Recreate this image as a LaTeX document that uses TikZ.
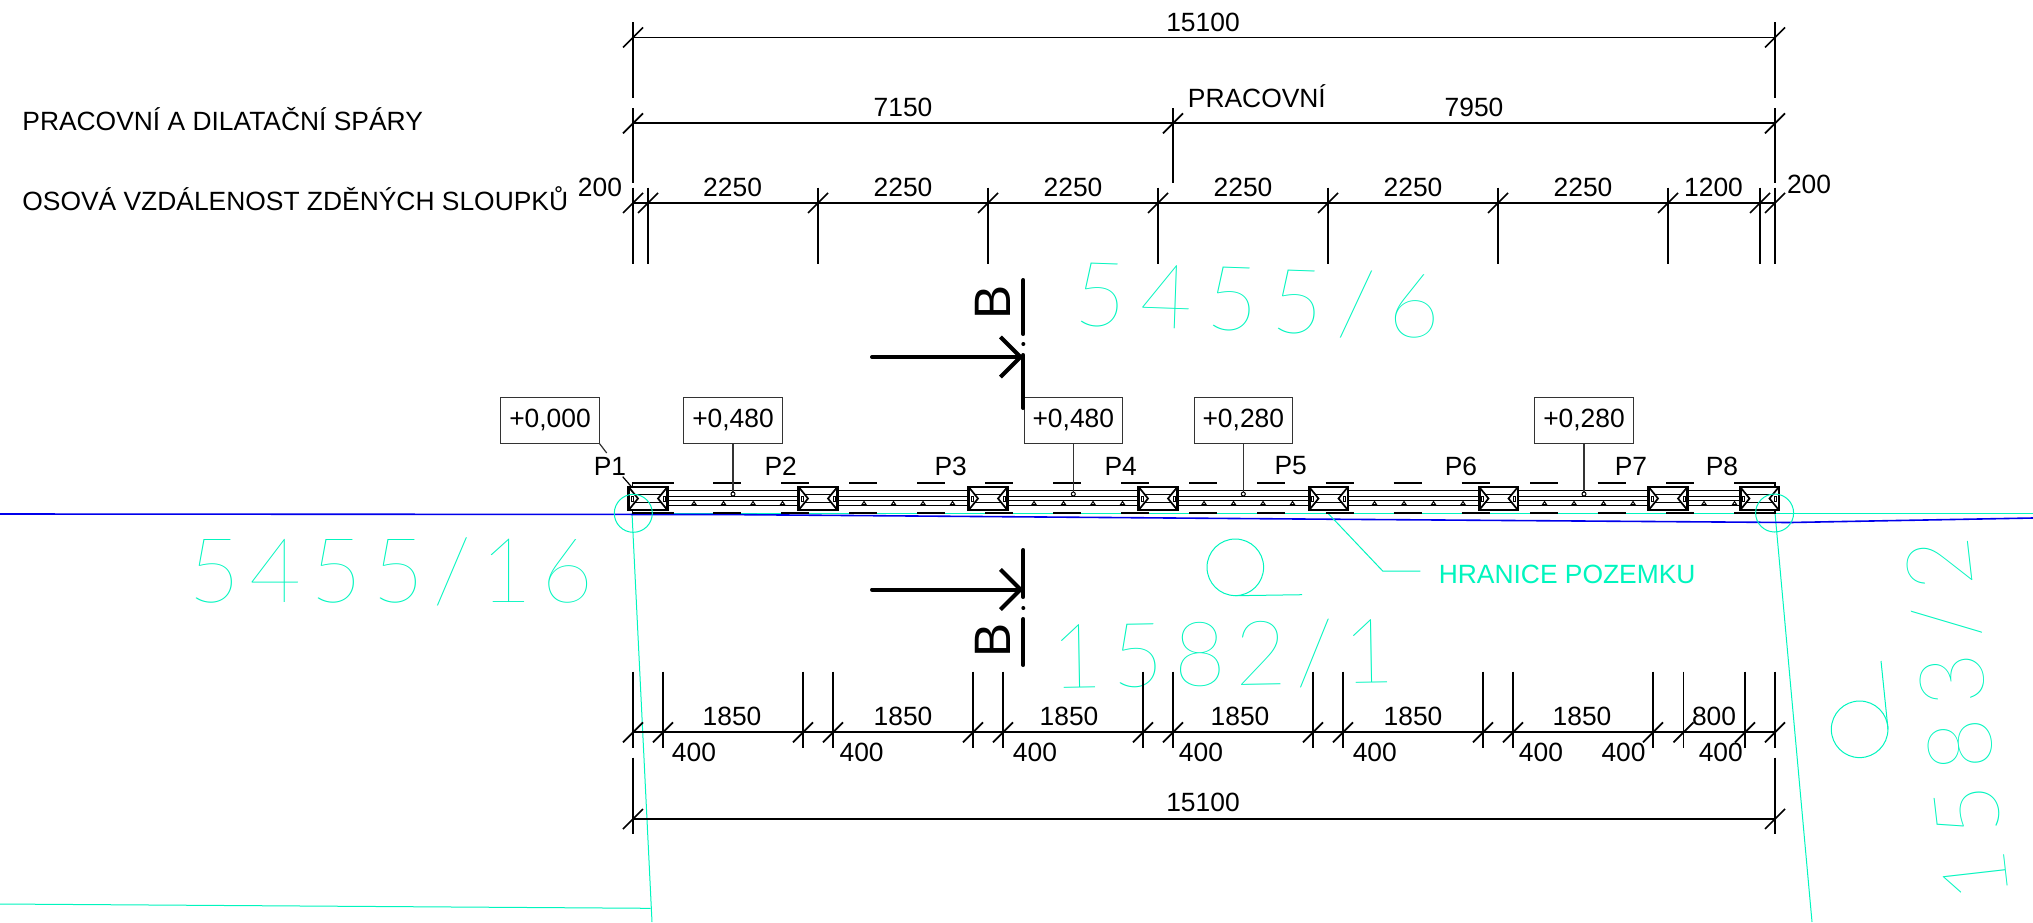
\documentclass[tikz,border=0pt]{standalone}
\usepackage{xcolor}
\usepackage{fontspec}
\setmainfont{Liberation Sans}
\newfontfamily\parcelfont[LetterSpace=10]{Lato Hairline}
\newfontfamily\parcelwidefont[LetterSpace=15]{Lato Hairline}
\usetikzlibrary{arrows.meta, positioning}
\definecolor{parcel}{RGB}{0,245,190}
\definecolor{terrain}{RGB}{0,0,235}
\tikzset{
    every node/.style={inner sep=0pt, font=\fontsize{13.2}{15}\selectfont},
    dim_line/.style={line width=0.85pt},
    ext_line/.style={line width=0.7pt},
    section_line/.style={line width=2pt, line cap=round},
    parcel_line/.style={parcel, line width=0.5pt},
    parcel_label/.style={parcel, font=\parcelfont\fontsize{45}{50}\selectfont},
    parcel_wide/.style={parcel, font=\parcelwidefont\fontsize{45}{50}\selectfont},
    level_box/.style={draw=black!80, line width=0.5pt, minimum width=49.2pt, minimum height=23pt},
    leader_line/.style={draw=black!80, line width=0.6pt},
    pillar_box/.style={draw, fill=white, line width=1.3pt},
    wall_line/.style={line width=0.5pt},
    dash_line/.style={line width=0.85pt},
}
% #1 x list, #2 y of the line, #3 top and #4 bottom of the extension lines
\newcommand{\dimticks}[4]{
    \foreach \tx in {#1} {
        \draw[ext_line] (\tx,#3) -- (\tx,#4);
        \draw[dim_line] (\tx-10,#2+10) -- (\tx+10,#2-10);
    }
}

\begin{document}
\begin{tikzpicture}[x=0.5pt, y=-0.5pt]
            \useasboundingbox (0,0) rectangle (2033,922);

            % parcel boundaries and terrain
            \draw[parcel_line] (633,513.3) -- (2033,513.3);
            \draw[parcel_line] (632,513) -- (652,922);
            \draw[parcel_line] (0,904) -- (650.5,908.3);
            \draw[parcel_line] (1775,513) -- (1812,922);
            \draw[terrain, line width=0.8pt] (0,514) -- (720,514.5) -- (1300,519) -- (1790,522.5) -- (2033,518);
            \draw[parcel_line] (1235.3,567.3) circle (28.3);
            \draw[parcel_line] (1235,595.7) -- (1302,594.7);
            \draw[parcel_line] (1859.6,729.3) circle (28.3);
            \draw[parcel_line] (1888,729.3) -- (1881,661);

            \node (parcel_a) [parcel_wide, rotate=-2] at (1258,301) {5455/6};
            \node (parcel_b) [parcel_label] at (391,572) {5455/16};
            \node (parcel_c) [parcel_label, rotate=1] at (1223,655) {1582/1};
            \node (parcel_d) [parcel_wide, rotate=96.5] at (1958,720) {1583/2};

            \node (boundary_label) [parcel, anchor=west] at (1438.4,574.7) {HRANICE POZEMKU};
            \coordinate (boundary_start) at (1328,513.3);
            \coordinate (boundary_knee) at (1382.7,571);
            \draw[parcel_line] (boundary_start) -- (boundary_knee) -- ([xshift=-9pt]boundary_label.west |- boundary_knee);

            % row titles
            \node (title_joints) [anchor=base west] at (22,130) {PRACOVNÍ A DILATAČNÍ SPÁRY};
            \node (title_axes) [anchor=base west] at (22,210) {OSOVÁ VZDÁLENOST ZDĚNÝCH SLOUPKŮ};

            % dimensions above the wall
            \draw[dim_line] (633,37.5) -- (1775,37.5);
            \dimticks{633,1775}{37.5}{22}{98}
            \node (total_top) at (1203,22) {15100};

            \draw[dim_line] (633,123.3) -- (1775,123.3);
            \dimticks{633,1173,1775}{123.3}{108}{183}
            \node (joint_left) at (903,107) {7150};
            \node (joint_right) at (1474,107) {7950};
            \node (joint_label) [anchor=base west] at (1187.5,107) {PRACOVNÍ};

            \draw[dim_line] (633,203) -- (1775,203);
            \dimticks{633,648,818,988,1158,1328,1498,1668,1760,1775}{203}{187.5}{264}
            \foreach \lx/\lt [count=\i] in {600/200,732.6/2250,903/2250,1073/2250,1243/2250,1413/2250,1583/2250,1713.5/1200} {
                \node (axis_\i) at (\lx,187) {\lt};
            }
            \node (axis_9) at (1809,184) {200};

            % dimensions below the wall
            \draw[dim_line] (633,732.3) -- (1775,732.3);
            \dimticks{633,663,803,833,973,1003,1143,1173,1313,1343,1483,1513,1653,1683.5,1745,1775}{732.3}{671.7}{748.3}
            \foreach \lx/\lt [count=\i] in {732/1850,903/1850,1069/1850,1240/1850,1413/1850,1582/1850,1714/800} {
                \node (bay_\i) at (\lx,716) {\lt};
            }
            \foreach \lx [count=\i] in {694,861.6,1035,1201,1374.8,1541,1623.5,1720.8} {
                \node (pier_\i) at (\lx,752) {400};
            }
            \draw[dim_line] (633,819) -- (1775,819);
            \dimticks{633,1775}{819}{757.7}{834}
            \node (total_bottom) at (1203,802) {15100};

            % wall between the pillars
            \draw[wall_line] (648,490.3) -- (1759.5,490.3);
            \draw[wall_line] (648,505.7) -- (1759.5,505.7);
            \draw[line width=0.7pt] (648,496.7) rectangle (1759.5,500.5);
            \foreach \cx in {648,818,988,1158,1328.5,1498.5} {
                \foreach \off in {46,75.5,105,134.5} {
                    \draw[wall_line] (\cx+\off-2,504.5) -- (\cx+\off,501.5) -- (\cx+\off+2,504.5) -- cycle;
                }
            }
            \foreach \mx in {1704,1734.5} {
                \draw[wall_line] (\mx-2,504.5) -- (\mx,501.5) -- (\mx+2,504.5) -- cycle;
            }

            % shuttering dashes on both sides
            \foreach \dx in {713,781,849,917,985,1053,1121,1189,1257,1325.5,1393.7,1461.7,1530,1597.5,1666} {
                \draw[dash_line] (\dx,483.3) -- (\dx+28.3,483.3);
                \draw[dash_line] (\dx,513.3) -- (\dx+28.3,513.3);
            }
            \draw[dash_line] (632.5,487) -- (632.5,483.3) -- (674,483.3);
            \draw[dash_line] (632.5,510) -- (632.5,513.3) -- (674,513.3);
            \draw[dash_line] (1734,483.3) -- (1775,483.3) -- (1775,487);
            \draw[dash_line] (1734,513.3) -- (1775,513.3) -- (1775,510);

            % pillars
            \foreach \cx in {648,818,988,1158,1328.5,1498.5,1668,1759.5} {
                \draw[pillar_box] (\cx-19.3,487) rectangle (\cx+19.3,510);
                \draw[line width=0.85pt] (\cx-19.3,487) -- (\cx-10,498.5) -- (\cx-19.3,510);
                \draw[line width=0.85pt] (\cx+19.3,487) -- (\cx+10,498.5) -- (\cx+19.3,510);
                \draw[wall_line] (\cx-13,494.3) -- (\cx+13,494.3);
                \draw[wall_line] (\cx-13,502.7) -- (\cx+13,502.7);
                \draw[wall_line] (\cx-17,496) rectangle (\cx-15,501);
                \draw[wall_line] (\cx+15,496) rectangle (\cx+17,501);
            }

            % level marks
            \node (level_a) [level_box] at (550,420.3) {+0,000};
            \node (level_b) [level_box] at (733,420.3) {+0,480};
            \node (level_c) [level_box] at (1073.3,420.3) {+0,480};
            \node (level_d) [level_box] at (1243.3,420.3) {+0,280};
            \node (level_e) [level_box] at (1584,420.3) {+0,280};
            \foreach \lvl in {b,c,d,e} {
                \coordinate (point_\lvl) at (level_\lvl.south |- 0,494);
                \draw[leader_line] (level_\lvl.south) -- (point_\lvl);
                \draw[wall_line, fill=white] (point_\lvl) circle (2);
            }
            \coordinate (pillar_corner) at (631.7,487);
            \draw[leader_line] (level_a.south east) -- (606.7,453);
            \draw[leader_line, black] (622.7,476.7) -- (pillar_corner);

            % pillar names
            \foreach \px [count=\i] in {610,780.7,950.7,1120.7,1290.7,1461,1631,1722} {
                \node (pillar_\i) at (\px,466) {P\i};
            }

            % section marks
            \coordinate (cut_top) at (1023.3,357);
            \coordinate (cut_bottom) at (1023.3,589.5);
            \draw[section_line] (1023.3,280) -- (1023.3,334);
            \fill (1023.3,344) circle (2);
            \draw[section_line] (1023.3,355) -- (1023.3,408);
            \draw[section_line, -{Straight Barb[length=10pt, width=20pt]}] (872,357) -- (cut_top);
            \node (section_top) [rotate=90, font=\fontsize{25.6}{30}\selectfont] at (993,302) {B};

            \draw[section_line] (1023.3,550) -- (1023.3,597);
            \fill (1023.3,608) circle (2);
            \draw[section_line] (1023.3,619) -- (1023.3,665);
            \draw[section_line, -{Straight Barb[length=10pt, width=20pt]}] (872,589.5) -- (cut_bottom);
            \node (section_bottom) [rotate=90, font=\fontsize{25.6}{30}\selectfont] at (993,640) {B};

            % circles over the corner pillars
            \draw[parcel_line] (633.3,513.3) circle (19);
            \draw[parcel_line] (1774.6,513) circle (19);
\end{tikzpicture}
\end{document}
